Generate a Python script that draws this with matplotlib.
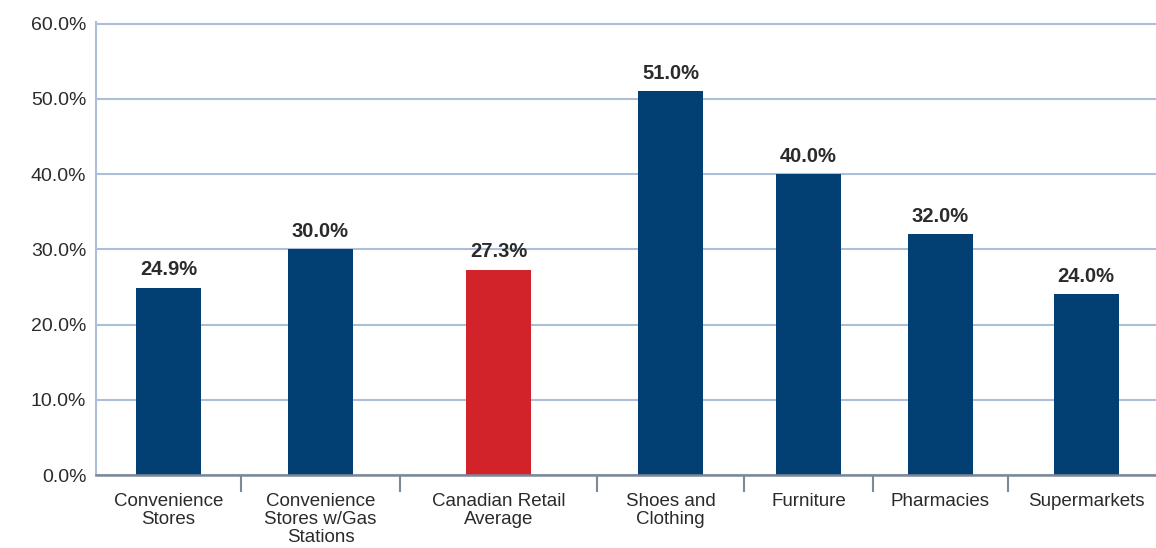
import matplotlib
matplotlib.use("Agg")
import matplotlib.pyplot as plt
from matplotlib.ticker import FixedLocator, FixedFormatter, NullFormatter

# --- data -------------------------------------------------------------
categories = [
    "Convenience\nStores",
    "Convenience\nStores w/Gas\nStations",
    "Canadian Retail\nAverage",
    "Shoes and\nClothing",
    "Furniture",
    "Pharmacies",
    "Supermarkets",
]
values = [24.9, 30.0, 27.3, 51.0, 40.0, 32.0, 24.0]
y_ticks = [0, 10, 20, 30, 40, 50, 60]
highlight = "Canadian Retail\nAverage"

# --- layout -----------------------------------------------------------
# category slots have uneven widths; bars sit in the middle of each slot
slot_edges = [96, 241, 400, 597, 744, 873, 1008, 1164]
x_range = (96, 1156)
bar_width = 65

NAVY = "#023f73"
RED = "#d2232a"
GRID = "#adbfd8"
BASE = "#7d8898"
TEXT = "#2b2b2b"
SANS = ["Liberation Sans", "DejaVu Sans"]

centers = [(a + b) / 2 for a, b in zip(slot_edges[:-1], slot_edges[1:])]
colors = [RED if c == highlight else NAVY for c in categories]

fig = plt.figure(figsize=(11.56, 5.48), dpi=100)
ax = fig.add_axes([96 / 1156, 73 / 548, 1 - 96 / 1156, 453 / 548])

ax.bar(centers, values, width=bar_width, color=colors, zorder=3)

for x, v in zip(centers, values):
    ax.annotate(f"{v:.1f}%", (x, v), xytext=(0, 6), textcoords="offset points",
                ha="center", va="bottom", fontsize=14.5, fontweight="bold",
                color=TEXT, family=SANS)

ax.set_xlim(*x_range)
ax.set_ylim(0, 60.2)

# y axis
ax.set_yticks(y_ticks)
ax.set_yticklabels([f"{t:.1f}%" for t in y_ticks])
ax.tick_params(axis="y", length=0, pad=7, labelsize=14, labelcolor=TEXT)
for lab in ax.get_yticklabels():
    lab.set_family(SANS)
ax.yaxis.grid(True, color=GRID, linewidth=1.5, zorder=0)
ax.set_axisbelow(True)

# x axis: tick marks at slot boundaries, labels at bar centres
ax.xaxis.set_major_locator(FixedLocator(slot_edges[1:-1]))
ax.xaxis.set_major_formatter(NullFormatter())
ax.xaxis.set_minor_locator(FixedLocator(centers))
ax.xaxis.set_minor_formatter(FixedFormatter(categories))
ax.tick_params(axis="x", which="major", length=12, width=1.5, color=BASE)
ax.tick_params(axis="x", which="minor", length=0, pad=13, labelsize=13.5,
               labelcolor=TEXT)
for lab in ax.get_xticklabels(minor=True):
    lab.set_family(SANS)
    lab.set_linespacing(1.08)
    lab.set_va("top")

for side in ("top", "right"):
    ax.spines[side].set_visible(False)
ax.spines["left"].set_color(GRID)
ax.spines["left"].set_linewidth(1.5)
ax.spines["bottom"].set_color(BASE)
ax.spines["bottom"].set_linewidth(1.8)
ax.spines["bottom"].set_zorder(4)

fig.savefig("out.png", dpi=100)
